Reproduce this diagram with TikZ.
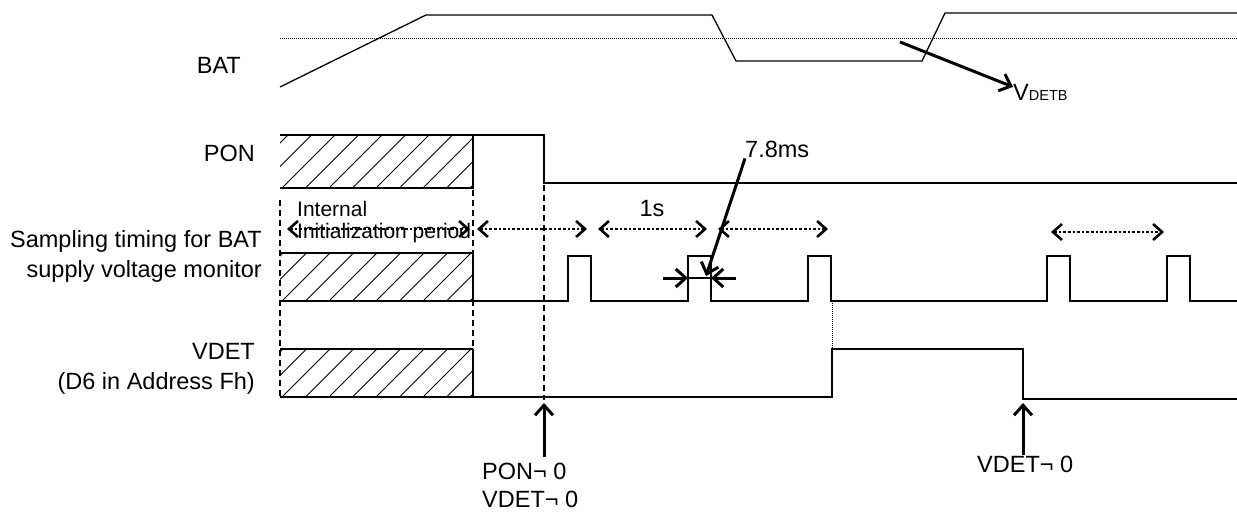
\documentclass[tikz,border=0pt]{standalone}
\usepackage{fontspec}
\setmainfont{Liberation Sans}
\usetikzlibrary{arrows.meta}

\begin{document}
\begin{tikzpicture}[x=1pt,y=-1pt,
    sig/.style={line width=1.3pt},
    hatch/.style={line width=0.9pt},
    guide/.style={line width=1.1pt,dash pattern=on 6pt off 4pt},
    thresh/.style={line width=1pt,dash pattern=on 1pt off 1pt},
    period/.style={line width=2.6pt,dash pattern=on 2.6pt off 2pt,
      {Straight Barb[length=9pt,width=16pt]}-{Straight Barb[length=9pt,width=16pt]}},
    pointer/.style={line width=3pt,-{Straight Barb[length=10pt,width=18pt]}},
    lbl/.style={inner sep=0pt,font=\fontsize{23.5}{30}\selectfont},
    small/.style={inner sep=0pt,font=\fontsize{21}{22}\selectfont}]
  \useasboundingbox (0,0) rectangle (1237,513);

  % signal names
  \node[lbl,anchor=base east] (bat) at (241,74) {BAT};
  \node[lbl,anchor=base east] (pon) at (255,162) {PON};
  \node[lbl,anchor=east,align=right] (samp) at (262,256) {Sampling timing for BAT\\supply voltage monitor};
  \node[lbl,anchor=east,align=right] (vdet) at (255,369) {VDET\\(D6 in Address Fh)};

  % hatched boxes
  \foreach \top/\bot in {135/188, 253/301, 349/397} {
    \begin{scope}
      \clip (280,\top) rectangle (473,\bot);
      \foreach \h in {-47,-23.5,...,200} \draw[hatch] (282+\h,\bot) -- ++(70,-70);
    \end{scope}
    \draw[sig] (280,\bot) -| (473,\top);
  }
  \draw[sig] (280,253) -- (473,253);
  \draw[sig] (280,349) -- (473,349);

  % guides
  \draw[guide] (280,200) -- (280,398);
  \draw[guide] (473,190) -- (473,398);
  \draw[guide] (544,185) -- (544,400);
  \draw[thresh] (280,39) -- (1237,39);
  \draw[thresh] (832,301) -- (832,349);

  % waveforms
  \draw[sig] (280,87) -- (426,15) -- (712,15) -- (736,61) -- (922,61) -- (945,13) -- (1237,13);
  \draw[sig] (280,135) -- (544,135) -- (544,183) -- (1237,183);
  \draw[sig] (280,301) foreach \p in {568,688,808,1047,1167} {
    -- (\p,301) -- (\p,256) -- (\p+23,256) -- (\p+23,301) } -- (1237,301);
  \draw[sig] (280,397) -- (832,397) -- (832,349) -- (1023,349) -- (1023,399) -- (1237,399);

  % sampling periods
  \foreach \a/\b/\y in {287/470/229, 477/587/229, 598/707/229, 718/828/229, 1051/1164/232}
    \draw[period] (\a,\y) -- (\b,\y);
  \node[small,anchor=north west,align=left] (init) at (297,201) {Internal\\Initialization period};
  \node[lbl] (onesec) at (652,209) {1s};

  % pulse width
  \coordinate (w1) at (688,278);
  \coordinate (w2) at (711,278);
  \draw[sig] (w1) -- (w2);
  \draw[pointer] (w1) ++(-25,0) -- (w1);
  \draw[pointer] (w2) ++(25,0) -- (w2);
  \node[lbl,anchor=base west] (ms) at (745,158) {7.8ms};
  \draw[pointer] (ms.south west) -- (706,276);

  % detection level
  \node[lbl,anchor=base west] (vdetb) at (1013,101) {V{\fontsize{14.5}{16}\selectfont DETB}};
  \coordinate (thr) at (900,42);
  \draw[pointer] (thr) -- ([yshift=6pt]vdetb.west);

  % clear points
  \node[lbl,anchor=north west,align=left,font=\fontsize{23.5}{28}\selectfont] (clr) at (482,463) {PON¬ 0\\VDET¬ 0};
  \node[lbl,anchor=base west] (clr2) at (977,472) {VDET¬ 0};
  \coordinate (pf) at (544,403);
  \coordinate (vf) at (1023,403);
  \draw[pointer] (pf |- clr.north) ++(0,-6) -- (pf);
  \draw[pointer] (vf |- clr2.north) -- (vf);
\end{tikzpicture}
\end{document}
